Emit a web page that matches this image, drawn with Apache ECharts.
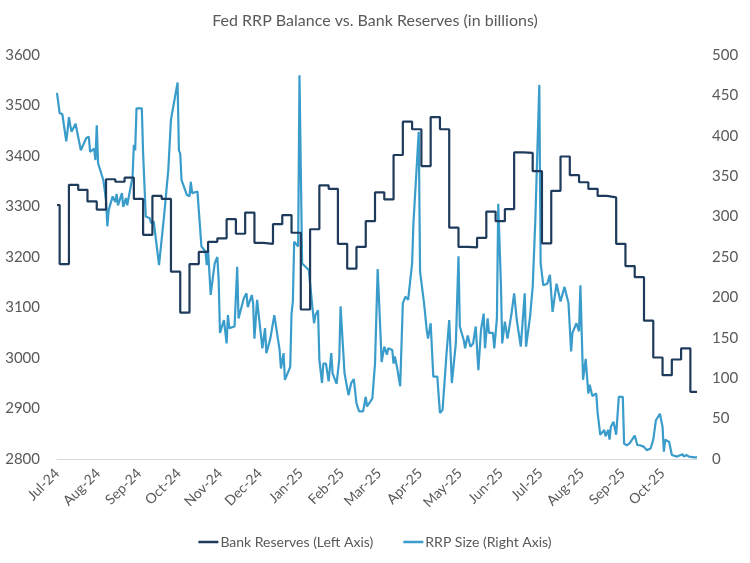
<!DOCTYPE html>
<html>
<head>
<meta charset="utf-8">
<title>Fed RRP Balance vs. Bank Reserves</title>
<script src="https://cdn.jsdelivr.net/npm/echarts@6/dist/echarts.min.js"></script>
<style>
  html, body { margin: 0; padding: 0; background: #fff; }
  #chart { width: 750px; height: 563px; }
</style>
</head>
<body>
<div id="chart"></div>
<script>
// month tick labels
var monthLabels = ['Jul-24','Aug-24','Sep-24','Oct-24','Nov-24','Dec-24','Jan-25','Feb-25',
  'Mar-25','Apr-25','May-25','Jun-25','Jul-25','Aug-25','Sep-25','Oct-25'];

// bank reserves, weekly (Wednesday) levels starting 2024-07-03
var reserveOpen = ['2024-07-01', 3303];
var reserveStart = '2024-07-03';
var reserveWeekly = [3186, 3343, 3333, 3310, 3294, 3354, 3349, 3357, 3315, 3244,
  3321, 3315, 3171, 3090, 3186, 3210, 3230, 3237, 3275, 3246,
  3288, 3228, 3226, 3265, 3283, 3248, 3096, 3255, 3342, 3335,
  3226, 3177, 3220, 3271, 3328, 3314, 3402, 3468, 3453, 3380,
  3477, 3453, 3258, 3220, 3219, 3238, 3290, 3271, 3295, 3407,
  3406, 3370, 3227, 3331, 3399, 3362, 3348, 3335, 3321, 3318,
  3226, 3182, 3160, 3074, 3001, 2966, 2997, 3019, 2933];
var firstDate = '2024-07-01';
var lastDate = '2025-10-27';

// RRP facility size
var rrpDates = ['2024-07-01','2024-07-03','2024-07-05','2024-07-08','2024-07-09','2024-07-10','2024-07-11','2024-07-12','2024-07-15','2024-07-19',
  '2024-07-23','2024-07-25','2024-07-26','2024-07-29','2024-07-30','2024-07-31','2024-08-01','2024-08-05','2024-08-07','2024-08-08',
  '2024-08-09','2024-08-12','2024-08-14','2024-08-15','2024-08-16','2024-08-19','2024-08-20','2024-08-22','2024-08-23','2024-08-27',
  '2024-08-28','2024-08-29','2024-08-30','2024-09-03','2024-09-04','2024-09-06','2024-09-09','2024-09-10','2024-09-12','2024-09-16',
  '2024-09-20','2024-09-23','2024-09-25','2024-09-30','2024-10-01','2024-10-02','2024-10-03','2024-10-07','2024-10-09','2024-10-10',
  '2024-10-11','2024-10-15','2024-10-18','2024-10-21','2024-10-22','2024-10-23','2024-10-25','2024-10-28','2024-10-30','2024-10-31',
  '2024-11-01','2024-11-04','2024-11-06','2024-11-07','2024-11-08','2024-11-12','2024-11-14','2024-11-15','2024-11-19','2024-11-21',
  '2024-11-22','2024-11-25','2024-11-26','2024-11-27','2024-11-29','2024-12-03','2024-12-05','2024-12-06','2024-12-09','2024-12-12',
  '2024-12-16','2024-12-17','2024-12-19','2024-12-20','2024-12-24','2024-12-25','2024-12-26','2024-12-27','2024-12-30','2024-12-31',
  '2025-01-02','2025-01-07','2025-01-10','2025-01-11','2025-01-12','2025-01-14','2025-01-15','2025-01-17','2025-01-18','2025-01-20',
  '2025-01-22','2025-01-24','2025-01-25','2025-01-28','2025-01-30','2025-01-31','2025-02-03','2025-02-06','2025-02-08','2025-02-10',
  '2025-02-12','2025-02-14','2025-02-17','2025-02-19','2025-02-20','2025-02-24','2025-02-26','2025-02-28','2025-03-02','2025-03-03',
  '2025-03-05','2025-03-07','2025-03-08','2025-03-11','2025-03-12','2025-03-13','2025-03-15','2025-03-17','2025-03-19','2025-03-21',
  '2025-03-23','2025-03-26','2025-03-27','2025-03-28','2025-03-31','2025-04-01','2025-04-02','2025-04-04','2025-04-06','2025-04-07',
  '2025-04-09','2025-04-11','2025-04-14','2025-04-16','2025-04-18','2025-04-21','2025-04-23','2025-04-25','2025-04-28','2025-04-30',
  '2025-05-01','2025-05-04','2025-05-05','2025-05-07','2025-05-09','2025-05-11','2025-05-13','2025-05-15','2025-05-17','2025-05-19',
  '2025-05-20','2025-05-22','2025-05-23','2025-05-26','2025-05-27','2025-05-29','2025-05-30','2025-06-01','2025-06-02','2025-06-04',
  '2025-06-06','2025-06-09','2025-06-11','2025-06-13','2025-06-16','2025-06-19','2025-06-20','2025-06-23','2025-06-25','2025-06-27',
  '2025-06-30','2025-07-01','2025-07-03','2025-07-06','2025-07-08','2025-07-10','2025-07-13','2025-07-16','2025-07-19','2025-07-22',
  '2025-07-24','2025-07-25','2025-07-28','2025-07-30','2025-07-31','2025-08-02','2025-08-04','2025-08-06','2025-08-07','2025-08-09',
  '2025-08-12','2025-08-13','2025-08-15','2025-08-18','2025-08-19','2025-08-21','2025-08-22','2025-08-23','2025-08-25','2025-08-27',
  '2025-08-28','2025-08-29','2025-09-01','2025-09-02','2025-09-04','2025-09-06','2025-09-07','2025-09-10','2025-09-12','2025-09-14',
  '2025-09-17','2025-09-19','2025-09-22','2025-09-24','2025-09-26','2025-09-29','2025-10-01','2025-10-02','2025-10-03','2025-10-06',
  '2025-10-08','2025-10-12','2025-10-16','2025-10-17','2025-10-19','2025-10-21','2025-10-22','2025-10-25','2025-10-27'];
var rrpValues = [453, 428, 427, 393, 407, 423, 413, 405, 415, 382,
  397, 399, 380, 384, 370, 413, 366, 345, 320, 288,
  308, 325, 318, 328, 314, 329, 312, 323, 314, 349,
  389, 382, 434, 434, 378, 300, 298, 292, 294, 240,
  304, 358, 420, 466, 382, 378, 345, 327, 325, 343,
  329, 331, 263, 257, 240, 259, 203, 242, 250, 222,
  156, 172, 143, 178, 162, 164, 238, 174, 199, 205,
  188, 203, 193, 149, 197, 137, 162, 131, 149, 178,
  135, 112, 131, 98, 114, 180, 195, 269, 263, 475,
  242, 234, 184, 168, 178, 184, 123, 94, 118, 118,
  96, 131, 106, 93, 123, 189, 106, 79, 94, 99,
  69, 59, 59, 77, 65, 75, 118, 235, 160, 120,
  139, 129, 137, 135, 118, 127, 110, 90, 193, 201,
  197, 242, 292, 294, 405, 232, 230, 193, 160, 149,
  168, 102, 102, 57, 61, 131, 172, 94, 143, 251,
  164, 147, 137, 153, 139, 143, 164, 110, 160, 180,
  137, 174, 156, 156, 137, 174, 316, 217, 143, 170,
  149, 180, 205, 172, 139, 205, 139, 176, 213, 296,
  463, 242, 215, 217, 228, 182, 217, 195, 213, 193,
  133, 156, 168, 158, 215, 98, 124, 81, 92, 78,
  81, 57, 30, 36, 28, 36, 24, 40, 46, 30,
  32, 77, 77, 19, 17, 19, 19, 29, 17, 17,
  15, 11, 13, 24, 48, 56, 40, 9, 24, 21,
  5, 3, 6, 3, 5, 3, 5, 2, 2];

// x axis is days since the first date
function toDate(dateStr) {
  var p = dateStr.split('-');
  return new Date(+p[0], +p[1] - 1, +p[2]);
}
var DAY = 86400000;
var origin = toDate(firstDate);
function dayIndex(d) {
  return Math.round((d - origin) / DAY);
}

var reserveData = [[dayIndex(toDate(reserveOpen[0])), reserveOpen[1]]];
var startDay = dayIndex(toDate(reserveStart));
reserveWeekly.forEach(function (v, i) {
  reserveData.push([startDay + 7 * i, v]);
});
reserveData.push([dayIndex(toDate(lastDate)), reserveWeekly[reserveWeekly.length - 1]]);

var rrpData = rrpDates.map(function (d, i) { return [dayIndex(toDate(d)), rrpValues[i]]; });

// month starts as day offsets
var monthTicks = monthLabels.map(function (lab, i) {
  return dayIndex(new Date(2024, 6 + i, 1));
});

var textColor = '#595959';
var font = 'Lato, "Open Sans", sans-serif';

var myChart = echarts.init(document.getElementById('chart'));
var option = {
  animation: false,
  title: {
    text: 'Fed RRP Balance vs. Bank Reserves (in billions)',
    left: 'center',
    top: 8,
    textStyle: { color: textColor, fontSize: 16, fontWeight: 'normal', fontFamily: font }
  },
  legend: {
    bottom: 9,
    left: 'center',
    icon: 'rect',
    itemWidth: 20,
    itemHeight: 2.5,
    itemGap: 30,
    textStyle: { color: textColor, fontSize: 14, fontFamily: font, padding: [0, 0, 0, -3] },
    data: ['Bank Reserves (Left Axis)', 'RRP Size (Right Axis)']
  },
  grid: {
    left: 57,
    right: 53,
    top: 55,
    bottom: 104
  },
  xAxis: {
    type: 'value',
    min: 0,
    max: dayIndex(toDate(lastDate)),
    axisLine: { show: true, onZero: false, lineStyle: { color: '#d9d9d9', width: 1 } },
    axisTick: { show: false },
    splitLine: { show: false },
    axisLabel: {
      customValues: monthTicks,
      rotate: 45,
      color: textColor,
      fontSize: 14,
      fontFamily: font,
      margin: 12,
      formatter: function (value) {
        var idx = monthTicks.indexOf(value);
        return idx >= 0 ? monthLabels[idx] : '';
      }
    }
  },
  yAxis: [
    {
      type: 'value',
      min: 2800,
      max: 3600,
      interval: 100,
      axisLine: { show: false },
      axisTick: { show: false },
      splitLine: { show: false },
      axisLabel: {
        color: textColor, fontSize: 15, fontFamily: font, margin: 17,
        formatter: function (v) { return String(v); }
      }
    },
    {
      type: 'value',
      min: 0,
      max: 500,
      interval: 50,
      axisLine: { show: false },
      axisTick: { show: false },
      splitLine: { show: false },
      axisLabel: { color: textColor, fontSize: 15, fontFamily: font, margin: 15 }
    }
  ],
  series: [
    {
      name: 'Bank Reserves (Left Axis)',
      type: 'line',
      yAxisIndex: 0,
      step: 'end',
      symbol: 'none',
      data: reserveData,
      itemStyle: { color: '#1f3b5c' },
      lineStyle: { color: '#1f3b5c', width: 2.2 },
      z: 3
    },
    {
      name: 'RRP Size (Right Axis)',
      type: 'line',
      yAxisIndex: 1,
      symbol: 'none',
      data: rrpData,
      itemStyle: { color: '#3a9ccb' },
      lineStyle: { color: '#3a9ccb', width: 2.2 },
      z: 2
    }
  ]
};
myChart.setOption(option);
window.addEventListener('resize', function () {
  myChart.resize();
});
</script>
</body>
</html>
